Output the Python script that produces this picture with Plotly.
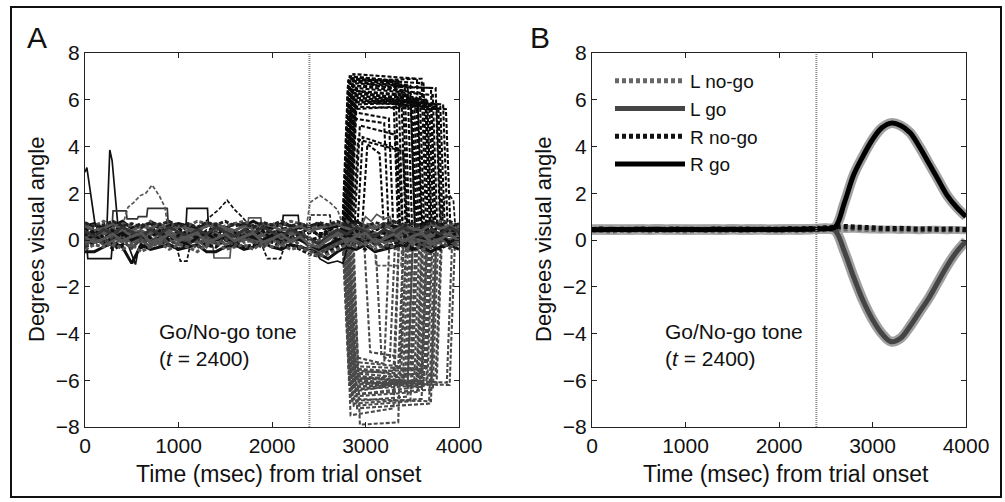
import plotly.graph_objects as go

# ---------------- data ----------------
T100 = list(range(0, 4001, 100))

# Panel A: baseline fixation traces (values at 100 ms steps)
BASE_TRACES = [
    ("#111111", "4px,2px", [0.3,0.5,0.2,0.4,0.6,0.3,0.1,0.4,0.5,0.2,0.3,0.6,0.4,0.2,0.5,0.3,0.1,0.4,0.6,0.3,0.2,0.5,0.4,0.1,0.3,0.6,0.4,0.2,0.5,0.3,0.4,0.6,0.2,0.3,0.5,0.4,0.1,0.3,0.5,0.2,0.4]),
    ("#555555", "solid", [-0.2,0.0,0.1,-0.3,0.2,0.0,-0.1,0.1,-0.2,0.0,0.2,-0.1,0.0,-0.3,0.1,0.2,-0.1,0.0,0.1,-0.2,0.0,0.2,-0.1,0.1,-0.3,-0.5,-0.4,-0.2,0.0,-0.1,0.1,-0.2,0.0,0.2,-0.1,0.0,-0.2,0.1,0.0,-0.1,0.1]),
    ("#111111", "solid", [0.6,0.7,0.5,0.6,0.8,0.5,0.6,0.7,0.5,0.6,0.7,0.6,0.5,0.7,0.6,0.5,0.7,0.6,0.8,0.6,0.5,0.7,0.6,0.5,0.6,0.7,0.5,0.6,0.7,0.8,0.6,0.5,0.7,0.6,0.5,0.7,0.6,0.8,0.6,0.5,0.7]),
    ("#555555", "4px,2px", [0.0,-0.2,0.3,0.1,-0.1,0.2,0.4,0.0,0.1,0.3,-0.1,0.2,0.0,0.3,0.1,-0.2,0.2,0.3,0.0,0.1,0.4,0.2,-0.1,0.3,0.1,-0.1,-0.3,0.2,0.0,0.3,0.1,-0.2,0.2,0.4,0.0,0.1,0.3,-0.1,0.2,0.0,0.3]),
    ("#111111", "4px,2px", [-0.3,-0.1,0.0,-0.4,-0.2,0.1,-0.3,-0.1,0.0,-0.2,-0.4,-0.1,0.0,-0.2,-0.3,0.0,-0.1,-0.3,-0.2,0.0,-0.1,-0.3,-0.2,-0.4,-0.6,-0.7,-0.5,-0.3,-0.1,-0.2,-0.4,-0.1,-0.3,-0.2,0.0,-0.3,-0.1,-0.2,-0.4,-0.1,-0.2]),
    ("#555555", "solid", [0.4,0.2,0.3,0.5,0.1,0.3,0.4,0.2,0.5,0.3,0.2,0.4,0.3,0.1,0.4,0.5,0.2,0.3,0.4,0.2,0.3,0.1,0.4,0.3,0.5,0.2,0.3,0.4,0.1,0.3,0.5,0.2,0.4,0.3,0.2,0.4,0.5,0.3,0.2,0.4,0.3]),
    ("#555555", "4px,2px", [0.1,0.3,-0.1,0.2,0.0,-0.2,0.1,0.3,0.0,-0.1,0.2,0.0,0.3,0.1,-0.1,0.1,0.3,-0.1,0.0,0.2,-0.1,0.1,0.2,0.0,-0.2,0.0,0.2,0.1,-0.1,0.2,0.0,0.3,-0.1,0.1,0.2,-0.1,0.0,0.2,0.1,-0.1,0.0]),
    ("#111111", "solid", [-0.5,-0.5,-0.3,-0.1,-0.3,-1.0,-0.2,-0.4,-0.3,-0.2,-0.4,-0.3,-0.2,-0.5,-0.5,-0.3,-0.2,-0.4,-0.3,-0.1,-0.3,-0.4,-0.2,-0.3,-0.4,-0.6,-0.8,-0.5,-0.3,-0.4,-0.2,-0.5,-0.4,-0.3,-0.2,-0.4,-0.3,-0.5,-0.3,-0.2,-0.4]),
    ("#555555", "4px,2px", [0.7,0.6,0.8,0.5,0.7,0.6,0.5,0.8,0.6,0.7,0.5,0.6,0.8,0.7,0.5,0.6,0.7,0.8,0.6,0.5,0.7,0.6,0.8,0.7,0.6,0.5,0.7,0.6,0.8,0.5,0.7,0.6,0.5,0.8,0.6,0.7,0.5,0.6,0.8,0.7,0.6]),
    ("#555555", "solid", [-0.1,0.1,-0.2,0.0,0.2,-0.1,0.0,-0.3,0.1,0.0,-0.2,0.1,-0.1,0.0,0.2,-0.2,0.0,0.1,-0.1,0.0,0.1,-0.2,0.0,0.1,-0.3,-0.4,-0.3,-0.1,0.1,0.0,-0.2,0.1,-0.1,0.0,0.2,-0.1,0.0,-0.2,0.1,0.0,-0.1]),
    ("#111111", "4px,2px", [0.5,0.3,0.6,0.4,0.2,0.5,0.7,0.4,0.3,0.6,0.5,0.2,0.4,0.6,0.3,0.5,0.4,0.2,0.6,0.5,0.3,0.4,0.6,0.3,0.5,0.2,0.4,0.6,0.3,0.5,0.2,0.4,0.6,0.5,0.3,0.2,0.5,0.4,0.6,0.3,0.5]),
    ("#555555", "solid", [0.2,0.0,0.3,0.1,0.4,0.2,0.0,0.3,0.2,0.4,0.1,0.3,0.2,0.0,0.3,0.1,0.4,0.2,0.1,0.3,0.2,0.0,0.3,0.2,0.1,-0.2,0.0,0.3,0.2,0.4,0.1,0.3,0.0,0.2,0.4,0.1,0.3,0.2,0.0,0.3,0.2]),
    ("#111111", "solid", [0.0,0.2,-0.1,0.1,0.3,0.0,0.2,-0.1,0.1,0.2,0.0,-0.2,0.1,0.3,0.0,0.1,-0.1,0.2,0.1,0.0,0.2,-0.1,0.1,0.0,-0.2,-0.4,-0.2,0.0,0.2,0.1,-0.1,0.2,0.0,0.1,-0.1,0.2,0.1,0.0,0.2,-0.1,0.1]),
    ("#555555", "4px,2px", [-0.4,-0.2,-0.3,-0.1,-0.4,-0.2,-0.5,-0.3,-0.1,-0.4,-0.2,-0.3,-0.5,-0.2,-0.1,-0.4,-0.3,-0.2,-0.4,-0.1,-0.3,-0.2,-0.4,-0.3,-0.5,-0.7,-0.6,-0.4,-0.2,-0.3,-0.1,-0.4,-0.2,-0.3,-0.5,-0.2,-0.4,-0.3,-0.1,-0.3,-0.2]),
    ("#555555", "solid", [0.6,0.4,0.5,0.7,0.5,0.4,0.6,0.5,0.7,0.4,0.6,0.5,0.4,0.6,0.7,0.5,0.4,0.6,0.5,0.7,0.6,0.4,0.5,0.6,0.4,0.5,0.6,0.7,0.5,0.4,0.6,0.5,0.7,0.4,0.6,0.5,0.4,0.7,0.5,0.6,0.4]),
    ("#111111", "4px,2px", [0.2,0.4,0.1,0.3,0.0,0.2,0.3,0.1,0.4,0.0,0.2,0.3,0.1,0.4,0.2,0.0,0.3,0.1,0.2,0.4,0.0,0.3,0.1,0.2,0.0,0.1,0.3,0.0,0.2,0.4,0.1,0.2,0.3,0.0,0.1,0.3,0.2,0.4,0.1,0.2,0.3]),
    ("#333333", "solid", [0.35,0.15,0.45,0.25,0.55,0.35,0.15,0.45,0.25,0.55,0.35,0.15,0.45,0.25,0.55,0.35,0.15,0.45,0.25,0.55,0.35,0.15,0.45,0.25,0.05,-0.15,0.15,0.45,0.25,0.55,0.35,0.15,0.45,0.25,0.55,0.35,0.15,0.45,0.25,0.55,0.35]),
    ("#444444", "4px,2px", [-0.25,0.05,-0.15,0.15,-0.05,-0.35,0.05,-0.15,0.15,-0.25,0.05,-0.05,-0.35,0.15,-0.15,0.05,-0.25,0.15,-0.05,-0.35,0.05,-0.15,0.15,-0.25,-0.45,-0.6,-0.35,-0.15,0.05,-0.25,0.15,-0.05,-0.35,0.05,-0.15,0.15,-0.25,0.05,-0.05,-0.35,0.05]),
    ("#222222", "4px,2px", [0.75,0.55,0.65,0.8,0.6,0.7,0.55,0.75,0.65,0.8,0.6,0.7,0.55,0.75,0.65,0.8,0.6,0.7,0.55,0.75,0.65,0.8,0.6,0.7,0.55,0.75,0.65,0.8,0.6,0.7,0.55,0.75,0.65,0.8,0.6,0.7,0.55,0.75,0.65,0.8,0.6]),
    ("#555555", "solid", [0.1,-0.1,0.05,0.25,-0.05,0.15,0.3,-0.1,0.05,0.25,-0.05,0.15,0.3,-0.1,0.05,0.25,-0.05,0.15,0.3,-0.1,0.05,0.25,-0.05,0.15,-0.2,-0.3,0.05,0.25,-0.05,0.15,0.3,-0.1,0.05,0.25,-0.05,0.15,0.3,-0.1,0.05,0.25,-0.05]),
]

# Panel A: rightward go saccades (black dashed): onset, start level, end level, offset
RGO_ON  = [2750,2760,2770,2780,2790,2800,2810,2820,2830,2770,2790,2810,2840,2860,2880,2910,2960,2790,2810,2770,2830,2850,2800,2820,
           2755,2765,2775,2785,2795,2805,2815,2825,2780,2800,2820,2840]
RGO_LS  = [6.5,6.9,7.0,6.8,6.2,6.6,7.1,6.0,5.8,5.5,6.3,5.2,6.7,4.3,4.9,4.4,4.1,6.4,6.9,6.1,5.7,6.5,6.8,6.0,
           6.8,6.3,7.0,5.9,6.6,6.1,6.9,5.6,6.4,7.0,6.2,5.9]
RGO_LE  = [6.0,6.6,6.8,6.9,5.9,6.5,6.9,5.8,5.9,5.2,6.0,5.0,6.5,3.8,4.5,3.9,3.7,6.2,6.7,5.9,5.6,6.2,6.4,5.6,
           6.6,6.0,6.7,6.0,6.3,5.8,6.6,5.8,6.1,6.8,5.9,5.7]
RGO_OFF = [3300,3450,3350,3600,3500,3750,3550,3830,3680,3250,3650,3200,3700,3400,3320,3350,3150,3480,3620,3560,3780,3720,3400,3860,
           3420,3520,3380,3660,3580,3700,3480,3760,3540,3320,3640,3800]

# Panel A: leftward go saccades (gray dashed)
LGO_ON  = [2750,2760,2770,2780,2790,2800,2810,2770,2790,2810,2830,2850,2870,2780,2800,2820,2840,2760,2980,3100,2810,2830,2790,2860,
           2755,2765,2775,2785,2795,2805,2815,2825,2835,2780,2800,2820]
LGO_LS  = [-5.5,-6.0,-6.5,-5.2,-7.0,-6.2,-5.8,-7.5,-6.8,-5.0,-6.4,-5.6,-7.9,-6.0,-5.4,-6.6,-7.2,-5.9,-4.8,-4.9,-6.3,-5.7,-6.9,-6.1,
           -6.2,-5.8,-6.7,-6.0,-5.5,-7.1,-6.4,-5.9,-6.6,-6.3,-5.7,-6.0]
LGO_LE  = [-5.6,-6.2,-6.1,-5.4,-6.8,-6.0,-6.0,-7.2,-6.9,-5.3,-6.0,-5.8,-7.8,-6.3,-5.5,-6.4,-7.0,-6.1,-5.0,-5.2,-6.1,-5.5,-6.7,-6.2,
           -6.0,-6.1,-6.5,-5.7,-5.8,-6.9,-6.2,-6.1,-6.3,-6.0,-5.9,-6.2]
LGO_OFF = [3300,3450,3500,3350,3600,3650,3400,3300,3700,3200,3550,3750,3350,3620,3480,3720,3680,3870,3380,3260,3580,3640,3450,3900,
           3420,3520,3560,3600,3380,3480,3660,3700,3540,3600,3440,3760]
SACC_BASE = 0.3

# Panel A: individual excursions (time, value)
EXTRA_TRACES = [
    ("#111111", "solid", [0, 20, 110, 250], [2.9, 3.1, 0.6, 0.5]),
    ("#111111", "solid", [180, 235, 265, 290, 350, 420], [0.5, 0.6, 3.85, 3.4, 0.7, 0.5]),
    ("#333333", "solid", [250, 290, 300, 440, 450, 560, 570, 660, 670, 880, 890, 1000], [0.6, 0.6, 1.25, 1.25, 0.9, 0.9, 1.0, 1.0, 1.35, 1.35, 0.7, 0.6]),
    ("#111111", "solid", [1000, 1080, 1090, 1310, 1320, 1400], [0.6, 0.6, 1.35, 1.35, 0.6, 0.6]),
    ("#555555", "solid", [1650, 1740, 1750, 1880, 1890, 1950], [0.6, 0.6, 0.95, 0.95, 0.6, 0.6]),
    ("#111111", "solid", [2000, 2110, 2120, 2280, 2290, 2350], [0.6, 0.6, 1.05, 1.05, 0.6, 0.6]),
    ("#555555", "4px,2px", [400, 460, 520, 590, 650, 717, 760, 800, 855, 880, 950], [0.6, 1.4, 1.6, 1.9, 2.0, 2.35, 2.1, 1.85, 1.4, 0.7, 0.6]),
    ("#111111", "4px,2px", [1250, 1340, 1430, 1520, 1600, 1690, 1760], [0.6, 1.0, 1.3, 1.7, 1.3, 0.95, 0.6]),
    ("#555555", "4px,2px", [2300, 2370, 2406, 2513, 2620, 2700, 2727, 2760], [0.6, 0.6, 1.6, 1.9, 1.6, 1.3, 1.0, 0.6]),
    ("#111111", "4px,2px", [2330, 2400, 2410, 2620, 2630, 2700], [0.6, 0.6, 1.07, 1.07, 0.6, 0.6]),
    ("#111111", "solid", [0, 20, 30, 280, 290, 400], [-0.3, -0.3, -0.8, -0.8, -0.3, -0.2]),
    ("#111111", "solid", [470, 540, 570, 640], [-0.3, -1.05, -0.4, -0.3]),
    ("#111111", "4px,2px", [980, 1020, 1090, 1120], [-0.3, -0.9, -0.9, -0.3]),
    ("#555555", "solid", [1330, 1370, 1380, 1550, 1560, 1600], [-0.3, -0.3, -0.77, -0.77, -0.3, -0.3]),
    ("#111111", "4px,2px", [1900, 1950, 2090, 2130], [-0.3, -0.8, -0.8, -0.3]),
    ("#111111", "solid", [2450, 2510, 2600, 2700, 2760, 2800], [-0.3, -0.8, -1.0, -0.9, -1.0, -0.4]),
    ("#555555", "solid", [2950, 3000, 3060, 3120, 3200, 3260, 3300], [0.5, 1.0, 0.8, 1.1, 0.9, 1.0, 0.5]),
    ("#111111", "4px,2px", [3800, 3850, 3900, 3940, 3960, 4000], [0.5, 1.8, 1.9, 1.7, 0.6, 0.5]),
    ("#555555", "4px,2px", [3050, 3100, 3110, 3380, 3390, 3450], [-0.3, -0.3, -1.1, -1.1, -0.3, -0.3]),
]

# Panel B: condition means (100 ms steps)
B_LNOGO = [0.40,0.42,0.38,0.41,0.40,0.43,0.39,0.41,0.42,0.40,0.38,0.41,0.43,0.40,0.39,0.42,0.41,0.40,0.43,0.41,0.39,0.42,0.40,0.41,0.43,0.44,0.45,0.47,0.48,0.46,0.45,0.44,0.45,0.43,0.44,0.42,0.43,0.44,0.42,0.43,0.42]
B_RNOGO = [0.45,0.47,0.44,0.46,0.45,0.47,0.46,0.44,0.46,0.47,0.45,0.46,0.44,0.47,0.46,0.45,0.47,0.46,0.45,0.47,0.46,0.48,0.47,0.49,0.50,0.52,0.55,0.58,0.56,0.54,0.52,0.50,0.49,0.50,0.48,0.47,0.48,0.46,0.47,0.46,0.45]
B_LGO   = [0.45,0.46,0.44,0.45,0.46,0.45,0.44,0.46,0.45,0.46,0.44,0.45,0.46,0.45,0.44,0.46,0.45,0.46,0.45,0.44,0.46,0.45,0.46,0.47,0.48,0.50,0.40,-0.5,-1.6,-2.6,-3.4,-4.0,-4.35,-4.2,-3.7,-3.1,-2.5,-1.8,-1.1,-0.5,-0.05]
B_RGO   = [0.45,0.44,0.46,0.45,0.44,0.46,0.45,0.46,0.44,0.45,0.46,0.45,0.44,0.46,0.45,0.46,0.44,0.45,0.46,0.45,0.44,0.46,0.45,0.46,0.47,0.48,0.55,1.6,2.8,3.6,4.3,4.8,5.0,4.9,4.6,4.0,3.3,2.6,1.9,1.4,1.0]

TONE_T = 2400
X_TICKS = [0, 1000, 2000, 3000, 4000]
Y_TICKS = [-8, -6, -4, -2, 0, 2, 4, 6, 8]

# ---------------- figure ----------------
W, H = 1005, 502
FONT = "Liberation Sans, Arial, Helvetica, sans-serif"

fig = go.Figure()

def add(x, y, color, dash, width, xa, ya, name=None, legend=False, shape="linear"):
    fig.add_trace(go.Scatter(
        x=x, y=y, mode="lines", xaxis=xa, yaxis=ya,
        line=dict(color=color, dash=dash, width=width, shape=shape),
        name=name, showlegend=legend, hoverinfo="skip"))

# Panel A: saccade trials
for on, ls, le, off in zip(LGO_ON, LGO_LS, LGO_LE, LGO_OFF):
    add([0, on, on + 70, off, off + 60, 4000], [SACC_BASE, SACC_BASE, ls, le, SACC_BASE, SACC_BASE],
        "#4a4a4a", "4px,2px", 2.1, "x", "y")
for on, ls, le, off in zip(RGO_ON, RGO_LS, RGO_LE, RGO_OFF):
    add([0, on, on + 60, off, off + 50, 4000], [SACC_BASE, SACC_BASE, ls, le, SACC_BASE, SACC_BASE],
        "#0a0a0a", "4px,2px", 2.1, "x", "y")
for color, dash, t, v in EXTRA_TRACES:
    add(t, v, color, dash, 1.7, "x", "y")
for color, dash, v in BASE_TRACES:
    add(T100, v, color, dash, 3.0, "x", "y")

# Panel B: shadows
add(T100, B_LGO, "#a0a0a0", "solid", 10, "x2", "y2", shape="spline")
add(T100, B_RGO, "#a0a0a0", "solid", 10, "x2", "y2", shape="spline")
add(T100, B_LNOGO, "#a8a8a8", "solid", 8, "x2", "y2", shape="spline")
# Panel B: means
add(T100, B_LNOGO, "#666666", "4px,3px", 5, "x2", "y2", "L no-go", True, "spline")
add(T100, B_LGO, "#444444", "solid", 5, "x2", "y2", "L go", True, "spline")
add(T100, B_RNOGO, "#111111", "4px,3px", 5, "x2", "y2", "R no-go", True, "spline")
add(T100, B_RGO, "#000000", "solid", 5, "x2", "y2", "R go", True, "spline")

def px_x(p):
    return p / W

def px_y(p):
    return 1 - p / H

axis_common = dict(
    showline=True, linecolor="#222222", linewidth=1.2, mirror="ticks",
    ticks="inside", ticklen=5, tickcolor="#222222", showgrid=False, zeroline=False,
    automargin=False, tickfont=dict(family=FONT, size=21, color="#111111"),
)

fig.update_layout(
    template="none",
    width=W, height=H, margin=dict(l=0, r=0, t=0, b=0, autoexpand=False),
    paper_bgcolor="white", plot_bgcolor="white",
    font=dict(family=FONT, color="#111111"),
    xaxis=dict(domain=[px_x(85), px_x(459)], range=[0, 4000], tickvals=X_TICKS, anchor="y", **axis_common),
    yaxis=dict(domain=[px_y(427), px_y(53)], range=[-8, 8], tickvals=Y_TICKS, anchor="x", **axis_common),
    xaxis2=dict(domain=[px_x(592), px_x(966)], range=[0, 4000], tickvals=X_TICKS, anchor="y2", **axis_common),
    yaxis2=dict(domain=[px_y(427), px_y(53)], range=[-8, 8], tickvals=Y_TICKS, anchor="x2", **axis_common),
    legend=dict(x=px_x(610), y=px_y(62), xanchor="left", yanchor="top",
                font=dict(family=FONT, size=19, color="#111111"),
                itemwidth=70, tracegroupgap=0, bgcolor="rgba(0,0,0,0)", borderwidth=0),
    showlegend=True,
)

shapes = []
for xa, ya in (("x", "y"), ("x2", "y2")):
    shapes.append(dict(type="line", xref=xa, yref=ya, x0=TONE_T, x1=TONE_T, y0=-8, y1=8,
                       line=dict(color="#8a8a8a", width=2, dash="1px,1px")))
shapes.append(dict(type="rect", xref="paper", yref="paper", x0=px_x(11), x1=px_x(1001),
                   y0=px_y(497), y1=px_y(7), line=dict(color="#111111", width=2)))
fig.update_layout(shapes=shapes)

ann = []
for cx, label in ((37, "A"), (540, "B")):
    ann.append(dict(text=label, x=px_x(cx), y=px_y(37), xref="paper", yref="paper",
                    showarrow=False, font=dict(family=FONT, size=30, color="#111111"),
                    xanchor="center", yanchor="middle"))
for cx in (36, 543):
    ann.append(dict(text="Degrees visual angle", x=px_x(cx), y=px_y(240), xref="paper", yref="paper",
                    showarrow=False, textangle=-90, font=dict(family=FONT, size=22, color="#111111"),
                    xanchor="center", yanchor="middle"))
for cx in (279, 786):
    ann.append(dict(text="Time (msec) from trial onset", x=px_x(cx), y=px_y(474), xref="paper", yref="paper",
                    showarrow=False, font=dict(family=FONT, size=23, color="#111111"),
                    xanchor="center", yanchor="middle"))
for xa, ya, tx in (("x", "y", 770), ("x2", "y2", 760)):
    ann.append(dict(text="Go/No-go tone<br>(<i>t</i> = 2400)", x=tx, y=-4.5, xref=xa, yref=ya,
                    showarrow=False, align="left", xanchor="left", yanchor="middle",
                    font=dict(family=FONT, size=21, color="#111111")))
fig.update_layout(annotations=ann)

fig.write_html("out.html", config={"displayModeBar": False},
               post_script="document.body.style.margin='0';document.body.style.overflow='hidden';")
